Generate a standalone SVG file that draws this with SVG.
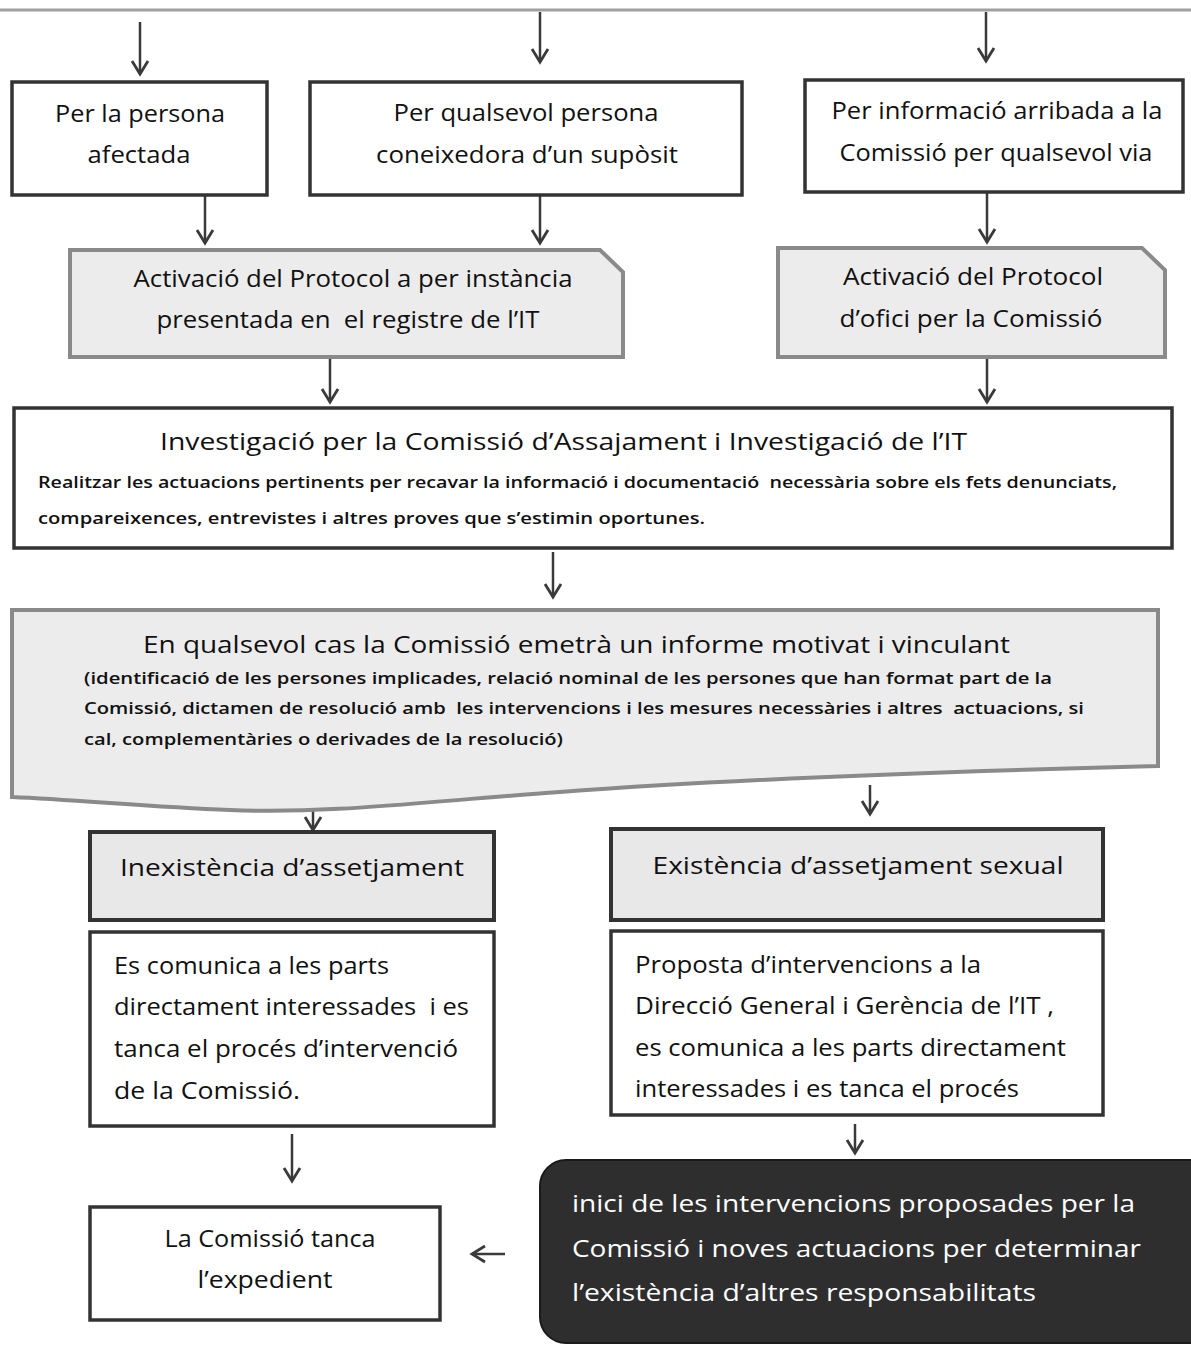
<svg xmlns="http://www.w3.org/2000/svg" width="1191" height="1345" viewBox="0 0 1191 1345">
<style>
text{font-family:"Open Sans",Lato,"Liberation Sans",sans-serif;fill:#111;white-space:pre}
.m{font-size:23px}
.t{font-size:24px}
.s{font-size:16px;font-weight:600}
.c{text-anchor:middle}
.w{fill:#fff}
.box{fill:#fff;stroke:#333;stroke-width:3.5}
.gbox{fill:#ececec;stroke:#8a8a8a;stroke-width:4}
.dbox{fill:#e8e8e8;stroke:#333;stroke-width:4}
.con{stroke:#3a3a3a;stroke-width:2.5;fill:none;marker-end:url(#arr)}
</style>
<defs>
<marker id="arr" markerUnits="userSpaceOnUse" markerWidth="24" markerHeight="24" viewBox="-16 -12 20 24" refX="0" refY="0" orient="auto">
<path d="M-13,-8 L0,0 L-13,8" fill="none" stroke="#3a3a3a" stroke-width="2.8"/>
</marker>
</defs>
<line x1="0" y1="10" x2="1191" y2="10" stroke="#a0a0a0" stroke-width="3"/>
<g id="connectors">
<line class="con" x1="140" y1="22" x2="140" y2="74"/>
<line class="con" x1="540" y1="12" x2="540" y2="62"/>
<line class="con" x1="986" y1="12" x2="986" y2="61"/>
<line class="con" x1="205" y1="196" x2="205" y2="243"/>
<line class="con" x1="540" y1="196" x2="540" y2="243"/>
<line class="con" x1="987" y1="193" x2="987" y2="242"/>
<line class="con" x1="330" y1="357" x2="330" y2="402"/>
<line class="con" x1="987" y1="357" x2="987" y2="402"/>
<line class="con" x1="553" y1="552" x2="553" y2="597"/>
<line class="con" x1="313" y1="808" x2="313" y2="830"/>
<line class="con" x1="870" y1="785" x2="870" y2="814"/>
<line class="con" x1="292" y1="1134" x2="292" y2="1181"/>
<line class="con" x1="855" y1="1124" x2="855" y2="1153"/>
<line class="con" x1="505" y1="1254" x2="472" y2="1254"/>
</g>
<g id="n1">
<rect class="box" x="12" y="82" width="255" height="113"/>
<text class="m c" x="140" y="122" textLength="170" lengthAdjust="spacingAndGlyphs">Per la persona</text>
<text class="m c" x="139" y="163" textLength="103" lengthAdjust="spacingAndGlyphs">afectada</text>
</g>
<g id="n2">
<rect class="box" x="310" y="82" width="432" height="113"/>
<text class="m c" x="526" y="121" textLength="265" lengthAdjust="spacingAndGlyphs">Per qualsevol persona</text>
<text class="m c" x="527" y="163" textLength="302" lengthAdjust="spacingAndGlyphs">coneixedora d’un supòsit</text>
</g>
<g id="n3">
<rect class="box" x="805" y="80" width="378" height="112"/>
<text class="m c" x="997" y="119" textLength="331" lengthAdjust="spacingAndGlyphs">Per informació arribada a la</text>
<text class="m c" x="996" y="161" textLength="313" lengthAdjust="spacingAndGlyphs">Comissió per qualsevol via</text>
</g>
<g id="n4">
<path class="gbox" d="M70,250 H600 L623,272 V357 H70 Z"/>
<text class="t c" x="353" y="287" textLength="439" lengthAdjust="spacingAndGlyphs">Activació del Protocol a per instància</text>
<text class="t c" x="348" y="328" textLength="383" lengthAdjust="spacingAndGlyphs">presentada en  el registre de l’IT</text>
</g>
<g id="n5">
<path class="gbox" d="M778,248 H1142 L1165,270 V357 H778 Z"/>
<text class="t c" x="973" y="285" textLength="260" lengthAdjust="spacingAndGlyphs">Activació del Protocol</text>
<text class="t c" x="971" y="327" textLength="263" lengthAdjust="spacingAndGlyphs">d’ofici per la Comissió</text>
</g>
<g id="n6">
<rect class="box" x="14" y="408" width="1158" height="140"/>
<text class="t" x="160" y="450" textLength="807" lengthAdjust="spacingAndGlyphs">Investigació per la Comissió d’Assajament i Investigació de l’IT</text>
<text class="s" x="38" y="488" textLength="1079" lengthAdjust="spacingAndGlyphs">Realitzar les actuacions pertinents per recavar la informació i documentació  necessària sobre els fets denunciats,</text>
<text class="s" x="38" y="524" textLength="667" lengthAdjust="spacingAndGlyphs">compareixences, entrevistes i altres proves que s’estimin oportunes.</text>
</g>
<g id="n7">
<path class="gbox" d="M12,610 H1158 V766 C1000,770 760,777 560,792 C420,802 330,814 230,810 C150,807 80,800 12,797 Z"/>
<text class="t" x="143" y="653" textLength="867" lengthAdjust="spacingAndGlyphs">En qualsevol cas la Comissió emetrà un informe motivat i vinculant</text>
<text class="s" x="84" y="684" textLength="968" lengthAdjust="spacingAndGlyphs">(identificació de les persones implicades, relació nominal de les persones que han format part de la</text>
<text class="s" x="84" y="714" textLength="1000" lengthAdjust="spacingAndGlyphs">Comissió, dictamen de resolució amb  les intervencions i les mesures necessàries i altres  actuacions, si</text>
<text class="s" x="84" y="745" textLength="479" lengthAdjust="spacingAndGlyphs">cal, complementàries o derivades de la resolució)</text>
</g>
<g id="n8">
<rect class="dbox" x="90" y="832" width="404" height="88"/>
<text class="t c" x="292" y="876" textLength="344" lengthAdjust="spacingAndGlyphs">Inexistència d’assetjament</text>
</g>
<g id="n9">
<rect class="dbox" x="611" y="829" width="492" height="91"/>
<text class="t c" x="858" y="874" textLength="411" lengthAdjust="spacingAndGlyphs">Existència d’assetjament sexual</text>
</g>
<g id="n10">
<rect class="box" x="90" y="932" width="404" height="194"/>
<text class="m" x="114" y="974" textLength="275" lengthAdjust="spacingAndGlyphs">Es comunica a les parts</text>
<text class="m" x="114" y="1015" textLength="355" lengthAdjust="spacingAndGlyphs">directament interessades  i es</text>
<text class="m" x="114" y="1057" textLength="344" lengthAdjust="spacingAndGlyphs">tanca el procés d’intervenció</text>
<text class="m" x="114" y="1099" textLength="186" lengthAdjust="spacingAndGlyphs">de la Comissió.</text>
</g>
<g id="n11">
<rect class="box" x="611" y="931" width="492" height="184"/>
<text class="m" x="635" y="973" textLength="346" lengthAdjust="spacingAndGlyphs">Proposta d’intervencions a la</text>
<text class="m" x="635" y="1014" textLength="419" lengthAdjust="spacingAndGlyphs">Direcció General i Gerència de l’IT ,</text>
<text class="m" x="635" y="1056" textLength="431" lengthAdjust="spacingAndGlyphs">es comunica a les parts directament</text>
<text class="m" x="635" y="1097" textLength="384" lengthAdjust="spacingAndGlyphs">interessades i es tanca el procés</text>
</g>
<g id="n12">
<rect class="box" x="90" y="1207" width="350" height="113"/>
<text class="m c" x="270" y="1247" textLength="211" lengthAdjust="spacingAndGlyphs">La Comissió tanca</text>
<text class="m c" x="265" y="1288" textLength="135" lengthAdjust="spacingAndGlyphs">l’expedient</text>
</g>
<g id="n13">
<rect x="540" y="1160" width="680" height="183" rx="26" ry="26" fill="#2e2e2e" stroke="#1a1a1a" stroke-width="2"/>
<text class="t w" x="572" y="1212" textLength="563" lengthAdjust="spacingAndGlyphs">inici de les intervencions proposades per la</text>
<text class="t w" x="572" y="1257" textLength="569" lengthAdjust="spacingAndGlyphs">Comissió i noves actuacions per determinar</text>
<text class="t w" x="572" y="1301" textLength="464" lengthAdjust="spacingAndGlyphs">l’existència d’altres responsabilitats</text>
</g>
</svg>
